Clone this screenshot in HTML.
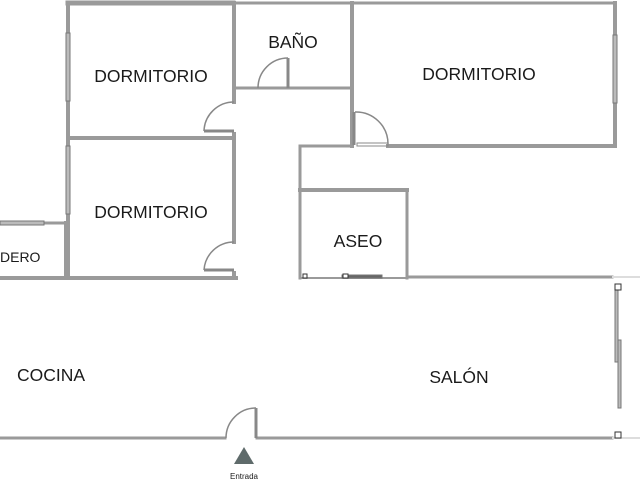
<!DOCTYPE html>
<html><head><meta charset="utf-8"><style>
html,body{margin:0;padding:0;background:#fff;width:640px;height:480px;overflow:hidden}
text{font-family:"Liberation Sans",sans-serif;fill:#1a1a1a}
</style></head><body>
<svg width="640" height="480" viewBox="0 0 640 480" xmlns="http://www.w3.org/2000/svg">
<g stroke="#9a9a9a" stroke-width="4" fill="none" stroke-linecap="square">
 <line x1="68" y1="3" x2="233" y2="3" stroke-width="5"/>
 <line x1="233" y1="3" x2="615" y2="3" stroke-width="3"/>
 <line x1="68" y1="3" x2="68" y2="278"/>
 <line x1="234" y1="3" x2="234" y2="102"/>
 <line x1="68" y1="138" x2="234" y2="138"/>
 <line x1="234" y1="134" x2="234" y2="242"/>
 <line x1="234" y1="273" x2="234" y2="278"/>
 <line x1="0" y1="278" x2="236" y2="278"/>
 <line x1="44" y1="223" x2="68" y2="223" stroke-width="3"/>
 <line x1="66" y1="223" x2="66" y2="278"/>
 <line x1="234" y1="88" x2="352" y2="88" stroke-width="3"/>
 <line x1="352" y1="3" x2="352" y2="146"/>
 <line x1="615" y1="3" x2="615" y2="146"/>
 <line x1="388" y1="146" x2="615" y2="146"/>
 <line x1="300" y1="146" x2="352" y2="146" stroke-width="3"/>
 <line x1="300" y1="146" x2="300" y2="278" stroke-width="3"/>
 <line x1="300" y1="190" x2="407" y2="190"/>
 <line x1="407" y1="190" x2="407" y2="278" stroke-width="3"/>
 <line x1="300" y1="278" x2="407" y2="278" stroke-width="2"/>
 <line x1="407" y1="277" x2="612" y2="277" stroke-width="3"/>
 <line x1="0" y1="438" x2="225" y2="438" stroke-width="3"/>
 <line x1="257" y1="438" x2="612" y2="438" stroke-width="3"/>
</g>
<g stroke="#ddd" stroke-width="2"><line x1="612" y1="277" x2="640" y2="277"/><line x1="612" y1="438" x2="640" y2="438"/></g>
<g fill="#bbb" stroke="#777" stroke-width="1">
 <rect x="66" y="33" width="4" height="68"/>
 <rect x="66" y="146" width="4" height="68"/>
 <rect x="0" y="221" width="44" height="4"/>
 <rect x="613" y="35" width="4" height="68"/>
 <rect x="615" y="290" width="3" height="72"/>
 <rect x="618" y="340" width="3" height="68"/>
 <rect x="342" y="275" width="40" height="3" fill="#666"/>
</g>
<g fill="#fff" stroke="#333" stroke-width="1">
 <rect x="615" y="284" width="6" height="6"/>
 <rect x="615" y="432" width="6" height="6"/>
 <rect x="343" y="274" width="5" height="4"/>
 <rect x="303" y="274" width="4" height="4"/>
</g>
<g stroke="#888" stroke-width="1.5" fill="none">
 <path d="M258 88 A30 30 0 0 1 288 58"/><line x1="288" y1="58" x2="288" y2="88" stroke-width="3"/>
 <path d="M204 131 A30 30 0 0 1 234 102"/><line x1="204" y1="131" x2="234" y2="131" stroke-width="3"/>
 <path d="M204 270 A30 30 0 0 1 234 242"/><line x1="204" y1="270" x2="234" y2="270" stroke-width="3"/>
 <path d="M355 112 A32 32 0 0 1 388 144"/><line x1="354" y1="112" x2="354" y2="145" stroke-width="3"/>
 <rect x="357" y="143" width="31" height="3" stroke-width="1"/>
 <path d="M226 438 A30 30 0 0 1 256 408"/><line x1="256" y1="408" x2="256" y2="438" stroke-width="3"/>
</g>
<polygon points="244,447 234,464 254,464" fill="#5f6b6b"/>
<text x="244" y="479" font-size="8" text-anchor="middle" fill="#555">Entrada</text>
<g font-size="17.5">
 <text x="151" y="82" text-anchor="middle">DORMITORIO</text>
 <text x="151" y="218" text-anchor="middle">DORMITORIO</text>
 <text x="293" y="48" text-anchor="middle">BAÑO</text>
 <text x="479" y="80" text-anchor="middle">DORMITORIO</text>
 <text x="358" y="247" text-anchor="middle">ASEO</text>
 <text x="459" y="383" text-anchor="middle">SALÓN</text>
 <text x="51" y="381" text-anchor="middle">COCINA</text>
 <text x="0" y="262" font-size="14">DERO</text>
</g>
</svg>
</body></html>
